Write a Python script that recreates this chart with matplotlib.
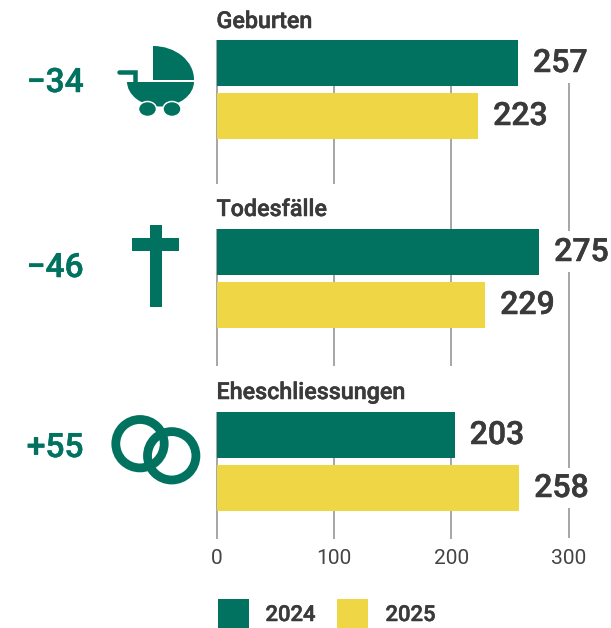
import matplotlib
matplotlib.use("Agg")
import matplotlib.pyplot as plt
import matplotlib.patheffects as pe
from matplotlib.patches import Rectangle, Circle, Ellipse

categories = ["Geburten", "Todesfälle", "Eheschliessungen"]
series_names = ["2024", "2025"]
values_2024 = [257, 275, 203]
values_2025 = [223, 229, 258]
differences = ["\u221234", "\u221246", "+55"]
x_ticks = [0, 100, 200, 300]

GREEN = "#00725F"
YELLOW = "#EED645"
TEXT = "#3A3A3A"
GRID = "#A8A8A8"
W, H = 611, 628
FONT = "Roboto"
px = 72 / 100  # points per pixel at dpi 100


def semibold(color):
    return [pe.withStroke(linewidth=0.5 * px, foreground=color)]


fig = plt.figure(figsize=(W / 100, H / 100), dpi=100, facecolor="white")

# overlay in pixel coordinates for icons and the legend swatches
bg = fig.add_axes([0, 0, 1, 1], zorder=3)
bg.set_xlim(0, W)
bg.set_ylim(H, 0)
bg.axis("off")
bg.patch.set_alpha(0)

# main axes: x in data units, y in pixel rows
x0, x1, y0, y1 = 216.5, 568.5, 40, 539
ax = fig.add_axes([x0 / W, 1 - y1 / H, (x1 - x0) / W, (y1 - y0) / H], zorder=2)
ax.set_xlim(0, 300)
ax.set_ylim(y1, y0)
ax.patch.set_alpha(0)
for s in ax.spines.values():
    s.set_visible(False)
ax.set_yticks([])
ax.set_xticks(x_ticks)
ax.tick_params(axis="x", length=0, pad=7, labelsize=21 * px, labelcolor="#444444")
for t in ax.get_xticklabels():
    t.set_fontfamily(FONT)

group_tops = [40, 229, 412]
bar_h, bar_gap = 46, 7
title_base = [28, 216, 399]
delta_y = [83, 268, 448]

# grid segments, broken where the titles and value labels sit
grid_segments = {
    0: [(40, 184), (229, 366), (412, 539)],
    100: [(40, 184), (229, 366), (412, 539)],
    200: [(40, 366), (412, 539)],
    300: [(83, 231), (272, 468), (508, 538)],
}
for xv, segs in grid_segments.items():
    for a, b in segs:
        ax.vlines(xv, a, b, color=GRID, lw=2 * px, zorder=1, clip_on=False)

for i, cat in enumerate(categories):
    top = group_tops[i]
    for j, (vals, col) in enumerate([(values_2024, GREEN), (values_2025, YELLOW)]):
        y = top + j * (bar_h + bar_gap)
        ax.barh(y, vals[i], height=bar_h, align="edge", color=col, zorder=2)
        ax.annotate(str(vals[i]), (vals[i], y + bar_h / 2), xytext=(15 * px, -0.5 * px),
                    textcoords="offset points", va="center", ha="left",
                    fontsize=32 * px, fontweight="medium", family=FONT, color=TEXT,
                    annotation_clip=False, zorder=4, path_effects=semibold(TEXT))
    bg.text(216.5, title_base[i], cat, fontsize=23.3 * px, fontweight="medium", family=FONT,
            color=TEXT, ha="left", va="baseline", path_effects=semibold(TEXT))
    bg.text(83.5, delta_y[i], differences[i], fontsize=33.5 * px, fontweight="medium", family=FONT,
            color=GREEN, ha="right", va="center", path_effects=semibold(GREEN))

# pram
hood = Ellipse((153, 79.5), 82, 67, color=GREEN, lw=0)
bg.add_patch(hood)
hood.set_clip_path(Rectangle((153, 40), 45, 39.5, transform=bg.transData))
basket = Ellipse((160.5, 81.5), 67, 50, color=GREEN, lw=0)
bg.add_patch(basket)
basket.set_clip_path(Rectangle((120, 81.5), 80, 40, transform=bg.transData))
for cx in (147.5, 172):
    bg.add_patch(Ellipse((cx, 109), 18, 15, fc=GREEN, ec="white", lw=1.5 * px, zorder=3))
bg.plot([119, 135, 135], [72, 72, 81], color=GREEN, lw=4.5 * px, solid_capstyle="round",
        solid_joinstyle="miter")

# cross
bg.add_patch(Rectangle((149.5, 224.5), 12.5, 82.5, color=GREEN, lw=0))
bg.add_patch(Rectangle((132, 238), 47, 12.5, color=GREEN, lw=0))

# rings
for cx, cy in [(140, 443.7), (171.7, 455.8)]:
    bg.add_patch(Circle((cx, cy), 24.2, fc="none", ec=GREEN, lw=8.8 * px))

# legend
for (lx, tx), name, col in zip([(217.5, 265.5), (337, 385.5)], series_names, [GREEN, YELLOW]):
    bg.add_patch(Rectangle((lx, 599), 31, 29, color=col, lw=0))
    bg.text(tx, 615.5, name, fontsize=22 * px, fontweight="medium", family=FONT, color=TEXT,
            ha="left", va="center", path_effects=semibold(TEXT))

fig.savefig("out.png", dpi=100, facecolor="white")
